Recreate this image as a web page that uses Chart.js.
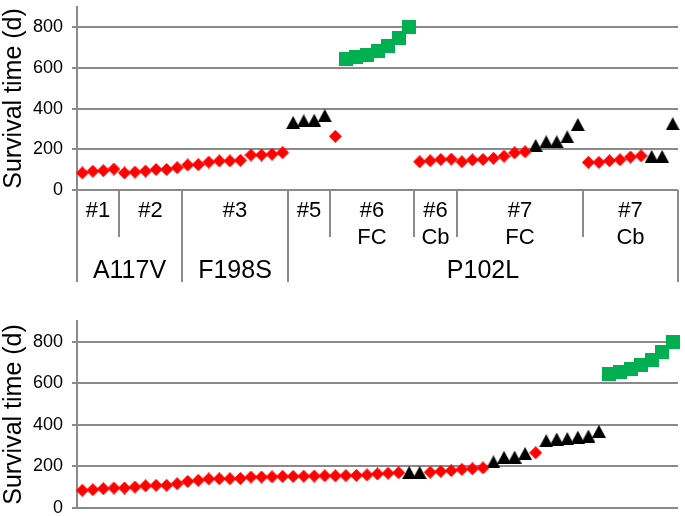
<!DOCTYPE html>
<html>
<head>
<meta charset="utf-8">
<script src="https://cdn.jsdelivr.net/npm/chart.js@4.4.0/dist/chart.umd.min.js"></script>
<style>
  html, body { margin: 0; padding: 0; background: #fff; }
  canvas { display: block; }
</style>
</head>
<body>
<canvas id="top" width="685" height="290"></canvas>
<canvas id="bottom" width="685" height="226"></canvas>
<script>
// survival time (d) per animal, grouped panel (left to right)
const topValues = [
  84, 92, 95, 103,
  84, 88, 93, 101, 101, 110,
  123, 125, 137, 143, 143, 146, 172, 172, 176, 184,
  332, 340, 343, 366,
  264, 642, 652, 665, 684, 706, 750, 800,
  139, 144, 150, 152,
  139, 148, 150, 156, 166, 183, 188, 219, 237, 237, 261, 322,
  136, 136, 144, 149, 162, 168, 165, 165, 326
];
// d = red diamond, t = black triangle, s = green square
const topKinds = (
  'dddd' + 'dddddd' + 'dddddddddd' + 'tttt' + 'dsssssss' + 'dddd' +
  'dddddddttttt' + 'ddddddttt'
).split('');

// sorted panel
const bottomValues = [
  85, 88, 93, 96, 96, 101, 107, 109, 109, 117, 128, 133, 140, 141, 141, 142,
  149, 149, 150, 152, 152, 153, 154, 155, 155, 156, 157, 159, 164, 167, 170,
  171, 171,
  172, 176, 180, 186, 189, 193,
  222, 244, 245, 262,
  266,
  324, 332, 334, 341, 346, 369,
  645, 656, 667, 688, 712, 752, 800
];
const bottomKinds = (
  'ddddddddddddddddddddddddddddddd' + 'tt' + 'dddddd' + 'tttt' + 'd' +
  'tttttt' + 'sssssss'
).split('');

const subgroupNames = [['#1'], ['#2'], ['#3'], ['#5'], ['#6', 'FC'], ['#6', 'Cb'], ['#7', 'FC'], ['#7', 'Cb']];
const subgroupSizes = [4, 6, 10, 4, 8, 4, 12, 9];
const mutationNames = ['A117V', 'F198S', 'P102L'];
const mutationSizes = [10, 10, 37];
const yTicks = [0, 200, 400, 600, 800];

const family = "'Liberation Sans', Arial, sans-serif";
const gridColor = '#8a8a8a';

// marker images, centred on their bounding box like Excel markers
function marker(kind) {
  const c = document.createElement('canvas');
  if (kind === 'd') {
    c.width = 13; c.height = 13;
    const g = c.getContext('2d');
    g.fillStyle = '#ff0000';
    g.beginPath();
    g.moveTo(6.5, 0); g.lineTo(13, 6.5); g.lineTo(6.5, 13); g.lineTo(0, 6.5);
    g.closePath(); g.fill();
  } else if (kind === 't') {
    c.width = 14; c.height = 13;
    const g = c.getContext('2d');
    g.fillStyle = '#000000';
    g.beginPath();
    g.moveTo(7, 0); g.lineTo(14, 13); g.lineTo(0, 13);
    g.closePath(); g.fill();
  } else {
    c.width = 14; c.height = 14;
    const g = c.getContext('2d');
    g.fillStyle = '#00b050';
    g.fillRect(0, 0, 14, 14);
  }
  return c;
}
const styles = { d: marker('d'), t: marker('t'), s: marker('s') };

function datasets(values, kinds) {
  return ['d', 't', 's'].map(k => ({
    data: values.map((v, i) => kinds[i] === k ? v : null),
    pointStyle: styles[k],
    pointRadius: 6,
    showLine: false,
    clip: false
  }));
}

function options(padding) {
  return {
    responsive: false,
    animation: false,
    events: [],
    layout: { padding },
    plugins: { legend: { display: false }, tooltip: { enabled: false } },
    scales: {
      x: { display: false, offset: true },
      y: {
        min: 0,
        max: 900,
        afterBuildTicks: s => { s.ticks = yTicks.map(v => ({ value: v })); },
        afterFit: s => { s.width = 77; s.paddingTop = 0; s.paddingBottom = 0; },
        ticks: { color: '#000', font: { family, size: 18 }, padding: 9 },
        grid: { color: gridColor, lineWidth: 2, tickLength: 5 },
        border: { color: gridColor, width: 2 },
        title: {
          display: true,
          text: 'Survival time (d)',
          color: '#000',
          font: { family, size: 25, lineHeight: 1.1 },
          padding: 0
        }
      }
    }
  };
}

// the two-level category table under the grouped panel
const groupTable = {
  id: 'groupTable',
  afterDraw(chart) {
    const { ctx, chartArea, scales: { x } } = chart;
    const edge = k => Math.round(x.getPixelForValue(k - 0.5));
    const y0 = chartArea.bottom;
    ctx.save();
    ctx.strokeStyle = gridColor;
    ctx.lineWidth = 2;

    const majors = [0];
    mutationSizes.forEach(n => majors.push(majors[majors.length - 1] + n));
    const minors = [0];
    subgroupSizes.forEach(n => minors.push(minors[minors.length - 1] + n));

    ctx.beginPath();
    majors.forEach(k => { ctx.moveTo(edge(k), y0); ctx.lineTo(edge(k), 282); });
    minors.filter(k => !majors.includes(k)).forEach(k => {
      ctx.moveTo(edge(k), y0); ctx.lineTo(edge(k), 237);
    });
    ctx.stroke();

    ctx.fillStyle = '#000';
    ctx.textAlign = 'center';
    ctx.textBaseline = 'alphabetic';
    ctx.font = '22px ' + family;
    subgroupNames.forEach((lines, i) => {
      const cx = (edge(minors[i]) + edge(minors[i + 1])) / 2;
      lines.forEach((t, j) => ctx.fillText(t, cx, j === 0 ? 217 : 244));
    });
    ctx.font = '25px ' + family;
    mutationNames.forEach((t, i) => {
      const cx = (edge(majors[i]) + edge(majors[i + 1])) / 2;
      ctx.fillText(t, cx, 278);
    });
    ctx.restore();
  }
};

const labels = topValues.map((_, i) => String(i + 1));

new Chart(document.getElementById('top'), {
  type: 'line',
  data: { labels, datasets: datasets(topValues, topKinds) },
  options: options({ top: 1, right: 4, bottom: 100, left: 0 }),
  plugins: [groupTable]
});

new Chart(document.getElementById('bottom'), {
  type: 'line',
  data: { labels: bottomValues.map((_, i) => String(i + 1)), datasets: datasets(bottomValues, bottomKinds) },
  options: options({ top: 31, right: 5, bottom: 8, left: 0 })
});
</script>
</body>
</html>
